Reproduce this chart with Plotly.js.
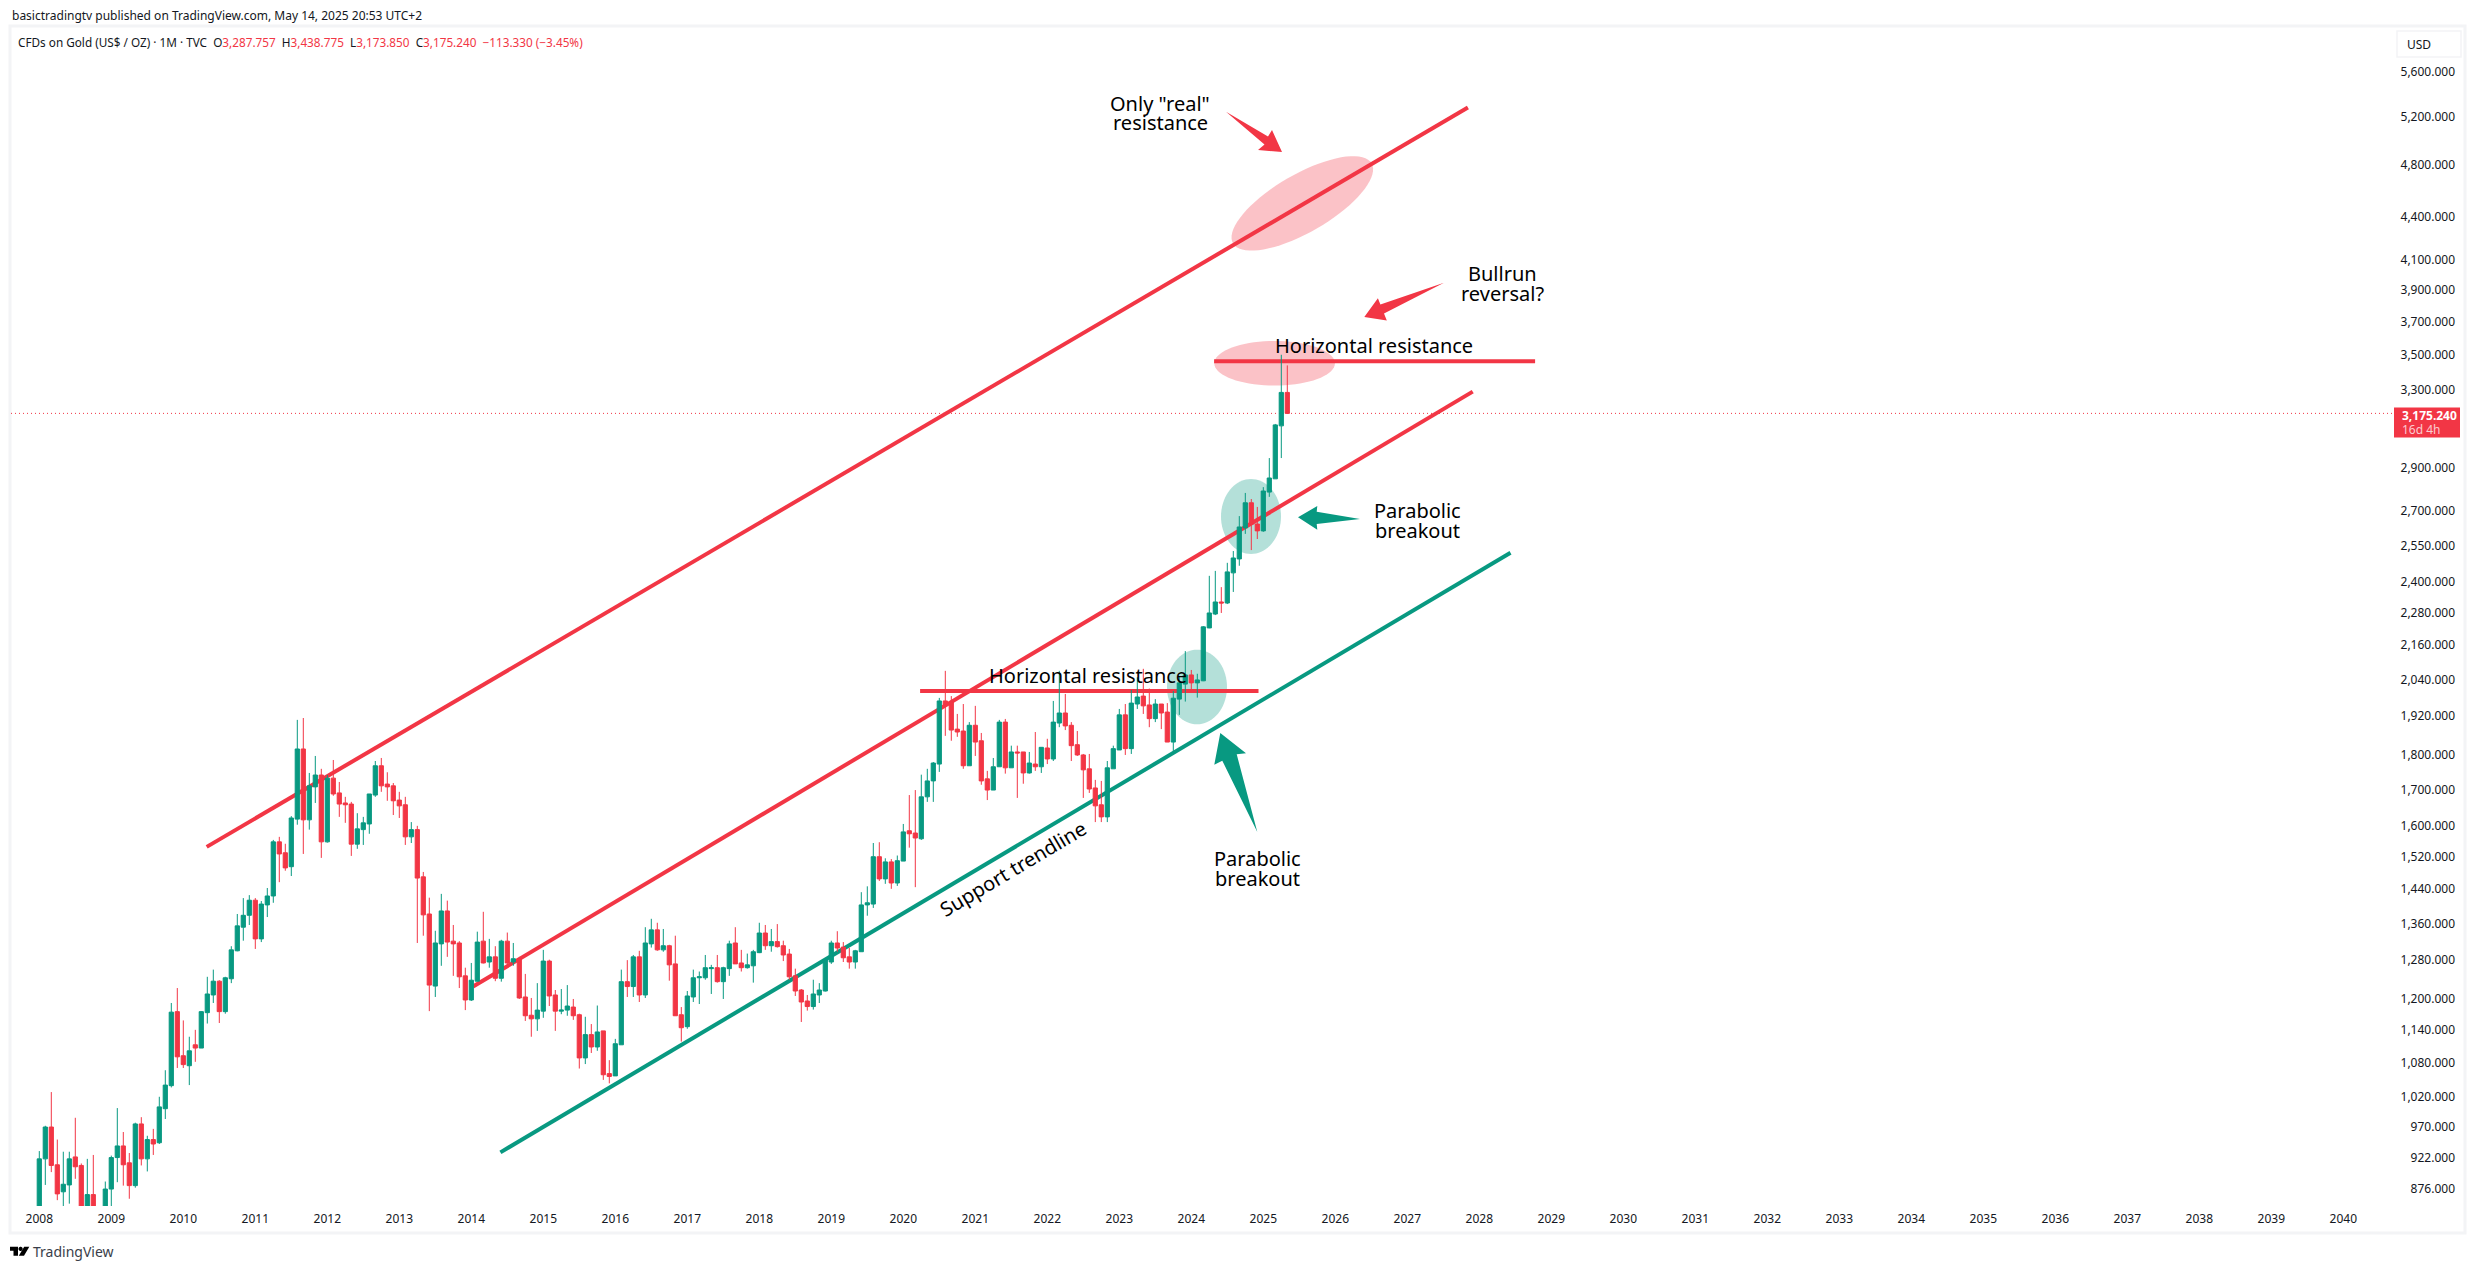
<!DOCTYPE html>
<html>
<head>
<meta charset="utf-8">
<script src="https://cdn.plot.ly/plotly-3.0.1.min.js"></script>
<style>html,body{margin:0;padding:0;background:#fff}</style>
</head>
<body>
<div id="chart" style="width:2475px;height:1269px"></div>
<script>
// monthly candles, Jan 2008 to May 2025
const opens = [834,920,970,911,871,881,923,910,832,867,
  724,814,875,922,940,914,880,975,920,950,
  945,1000,1039,1175,1092,1074,1112,1106,1173,1208,
  1236,1175,1241,1300,1352,1379,1414,1326,1403,1424,
  1558,1530,1495,1618,1818,1616,1707,1741,1558,1732,
  1690,1662,1659,1552,1590,1605,1684,1768,1715,1710,
  1670,1657,1571,1590,1470,1382,1226,1315,1389,1321,
  1317,1247,1198,1236,1321,1276,1287,1242,1321,1276,
  1283,1204,1168,1161,1176,1278,1208,1176,1178,1184,
  1169,1088,1131,1108,1138,1060,1056,1112,1235,1225,
  1287,1208,1315,1346,1302,1311,1272,1169,1146,1204,
  1243,1243,1262,1264,1235,1262,1317,1274,1264,1268,
  1296,1339,1311,1320,1311,1293,1247,1218,1196,1185,
  1208,1216,1276,1317,1308,1287,1276,1298,1403,1405,
  1520,1465,1507,1455,1509,1587,1581,1566,1679,1724,
  1773,1969,1966,1879,1873,1768,1891,1843,1730,1698,
  1765,1901,1762,1809,1809,1747,1773,1765,1821,1788,
  1898,1930,1891,1831,1800,1759,1704,1657,1624,1759,
  1815,1924,1819,1959,1985,1956,1912,1959,1933,1839,
  1975,2025,2056,2029,2036,2223,2275,2321,2317,2436,
  2493,2625,2737,2642,2612,2786,2848,3110,3287.757]
const highs = [932,972,1028,950,931,931,985,913,920,926,
  825,886,925,1001,962,929,977,986,956,967,
  1020,1066,1192,1222,1158,1127,1140,1176,1245,1260,
  1238,1245,1310,1382,1419,1426,1419,1412,1443,1563,
  1571,1553,1626,1908,1914,1747,1797,1759,1741,1785,
  1721,1679,1665,1634,1624,1687,1782,1791,1749,1718,
  1693,1679,1610,1600,1482,1420,1344,1429,1413,1357,
  1321,1264,1274,1342,1387,1326,1310,1324,1340,1317,
  1287,1251,1202,1232,1302,1281,1218,1220,1228,1200,
  1171,1165,1151,1187,1138,1084,1123,1260,1280,1291,
  1300,1352,1371,1362,1348,1313,1333,1184,1216,1260,
  1256,1291,1270,1291,1266,1322,1352,1302,1294,1302,
  1362,1357,1348,1359,1322,1304,1262,1220,1208,1239,
  1232,1281,1322,1343,1319,1306,1302,1433,1447,1555,
  1557,1516,1514,1523,1605,1684,1698,1742,1759,1779,
  1979,2070,1985,1927,1959,1901,1953,1867,1753,1791,
  1908,1911,1828,1828,1809,1809,1870,1823,1849,1969,
  2070,1992,1901,1873,1803,1803,1727,1724,1782,1828,
  1943,1959,2005,2048,2077,2010,1975,1959,1962,2002,
  2050,2139,2073,2060,2230,2424,2444,2379,2477,2526,
  2677,2782,2754,2718,2809,2948,3120,3500,3438.775]
const lows = [833,881,900,859,845,854,890,786,735,681,
  699,750,802,885,880,861,877,910,901,926,
  943,983,1036,1070,1070,1040,1081,1106,1152,1192,
  1153,1171,1232,1299,1322,1357,1304,1319,1375,1408,
  1457,1485,1472,1603,1527,1590,1662,1517,1556,1682,
  1624,1608,1522,1540,1550,1579,1679,1693,1668,1629,
  1621,1550,1555,1317,1333,1176,1204,1268,1287,1247,
  1222,1178,1196,1235,1273,1264,1236,1235,1270,1268,
  1200,1157,1127,1138,1163,1186,1138,1170,1167,1159,
  1069,1077,1097,1101,1049,1043,1056,1112,1204,1204,
  1194,1202,1307,1300,1298,1237,1167,1118,1142,1194,
  1190,1239,1210,1233,1200,1247,1272,1256,1262,1233,
  1295,1302,1298,1307,1278,1239,1206,1155,1177,1179,
  1192,1215,1272,1298,1276,1262,1262,1298,1378,1396,
  1460,1453,1441,1448,1509,1543,1445,1563,1665,1665,
  1750,1858,1843,1855,1759,1768,1797,1713,1670,1698,
  1765,1745,1762,1676,1716,1745,1753,1747,1773,1782,
  1885,1876,1782,1797,1676,1690,1610,1610,1610,1759,
  1815,1800,1803,1943,1927,1885,1901,1879,1839,1812,
  1924,1967,2000,1980,2035,2222,2271,2279,2313,2360,
  2465,2599,2530,2577,2608,2764,2848,2948,3173.85]
const closes = [920,970,910,868,882,920,908,832,867,724,
  814,875,922,940,911,880,975,920,950,943,
  1003,1040,1174,1090,1076,1101,1106,1175,1210,1236,
  1175,1243,1302,1355,1379,1414,1326,1405,1424,1558,
  1527,1492,1621,1818,1616,1710,1741,1558,1732,1687,
  1659,1657,1552,1592,1608,1687,1768,1710,1707,1668,
  1654,1571,1590,1467,1380,1228,1317,1389,1319,1315,
  1245,1198,1238,1319,1274,1287,1242,1321,1274,1283,
  1202,1167,1161,1178,1278,1206,1176,1178,1186,1167,
  1088,1131,1108,1136,1058,1055,1114,1235,1225,1287,
  1208,1317,1346,1302,1311,1270,1167,1144,1206,1243,
  1245,1264,1264,1235,1264,1315,1272,1264,1270,1298,
  1339,1311,1320,1309,1291,1245,1216,1194,1185,1210,
  1218,1281,1317,1306,1285,1276,1300,1403,1408,1520,
  1465,1507,1455,1510,1584,1579,1568,1679,1724,1776,
  1969,1956,1876,1870,1768,1891,1839,1724,1698,1765,
  1901,1762,1809,1806,1747,1776,1765,1823,1788,1901,
  1930,1889,1828,1800,1756,1701,1654,1624,1762,1819,
  1924,1819,1962,1982,1953,1912,1959,1930,1839,1978,
  2029,2056,2029,2039,2227,2279,2321,2317,2440,2497,
  2629,2737,2642,2612,2791,2852,3115,3287.757,3175.24]

const years = [2008,2009,2010,2011,2012,2013,2014,2015,2016,2017,2018,2019,2020,2021,2022,2023,2024,
  2025,2026,2027,2028,2029,2030,2031,2032,2033,2034,2035,2036,2037,2038,2039,2040]
const priceTicks = [5600,5200,4800,4400,4100,3900,3700,3500,3300,2900,2700,2550,2400,2280,2160,2040,
  1920,1800,1700,1600,1520,1440,1360,1280,1200,1140,1080,1020,970,922,876]
const lastPrice = 3175.24

// trendlines as [bar index], [price]
const upperX = [27.9, 238.1], upperY = [1545, 5278]
const middleX = [72.3, 238.9], middleY = [1225, 3292]
const supportX = [76.85, 245.2], supportY = [930, 2519]
const lowResX = [146.8, 203.2], lowResY = [2001.5, 2001.5]
const topResX = [195.8, 249.3], topResY = [3463, 3463]

const RED = '#f23645', GREEN = '#089981', INK = '#131722', FRAME = '#f3f4f6'
const FONT = 'Noto Sans, Open Sans, sans-serif'

// pane in page pixels
const L = 11, R = 2458, T = 27, B = 1206
const px = (x) => (x - L) / (R - L)
const py = (y) => (B - y) / (B - T)

const polyPath = (pts) => 'M' + pts.map(p => px(p[0]) + ',' + py(p[1])).join(' L') + ' Z'

const ellipsePath = (cx, cy, a, b, deg) => {
  let pts = []
  let th = deg * Math.PI / 180
  for (let k = 0; k < 72; k++) {
    let t = k / 72 * 2 * Math.PI
    let ex = a * Math.cos(t), ey = b * Math.sin(t)
    pts.push([cx + ex * Math.cos(th) + ey * Math.sin(th), cy - ex * Math.sin(th) + ey * Math.cos(th)])
  }
  return polyPath(pts)
}

const trend = (xs, ys, color) => ({
  type: 'line', layer: 'below', xref: 'x', yref: 'y',
  x0: xs[0], x1: xs[1], y0: ys[0], y1: ys[1],
  line: { color: color, width: 4 }
})
const fillShape = (path, color) => ({
  type: 'path', layer: 'below', xref: 'paper', yref: 'paper',
  path: path, fillcolor: color, line: { width: 0 }
})
const topShape = (path, color) => ({
  type: 'path', layer: 'above', xref: 'paper', yref: 'paper',
  path: path, fillcolor: color, line: { width: 0 }
})

const PINK = 'rgba(242,54,69,0.3)', TEAL = 'rgba(8,153,129,0.3)'

const shapes = [
  // outer frame of the pane
  { type: 'rect', xref: 'paper', yref: 'paper', layer: 'below', x0: px(10), x1: px(2465), y0: py(1233), y1: py(26),
    line: { color: FRAME, width: 3 }, fillcolor: 'rgba(0,0,0,0)' },
  { type: 'line', xref: 'paper', yref: 'y', layer: 'below', x0: 0, x1: px(2393), y0: lastPrice, y1: lastPrice,
    line: { color: RED, width: 1, dash: '1px,3px' } },
  trend(upperX, upperY, RED),
  trend(middleX, middleY, RED),
  trend(lowResX, lowResY, RED),
  trend(topResX, topResY, RED),
  trend(supportX, supportY, GREEN),
  fillShape(ellipsePath(1302.3, 203.4, 80, 29, 30), PINK),
  fillShape(ellipsePath(1274.6, 363.3, 60.3, 22.3, 0), PINK),
  fillShape(ellipsePath(1251, 516.5, 30, 37.5, 0), TEAL),
  fillShape(ellipsePath(1197, 687, 30, 37.3, 0), TEAL),
  // arrows
  topShape(polyPath([[1226, 111.7], [1268, 136.5], [1272, 130], [1282, 152], [1258, 150], [1264.5, 144.5]]), RED),
  topShape(polyPath([[1444, 282.7], [1380.4, 304.5], [1377.9, 298.2], [1364.3, 317], [1386.8, 320.5], [1384, 313.5]]), RED),
  topShape(polyPath([[1298, 517.3], [1317.3, 506], [1316.7, 511.7], [1360, 519], [1316.7, 524], [1317.3, 529.7]]), GREEN),
  topShape(polyPath([[1220.3, 733], [1246, 753.3], [1236.7, 754.3], [1257.3, 832], [1222.3, 760.7], [1214.3, 764.7]]), GREEN),
  // price label and USD button
  topShape(polyPath([[2394, 407.5], [2460, 407.5], [2460, 437.5], [2394, 437.5]]), RED),
  { type: 'rect', xref: 'paper', yref: 'paper', layer: 'above', x0: px(2397), x1: px(2461), y0: py(57), y1: py(31),
    line: { color: FRAME, width: 1.5 }, fillcolor: 'rgba(0,0,0,0)' },
  // TradingView logo
  topShape(polyPath([[10, 1246.7], [18, 1246.7], [18, 1255.7], [13.5, 1255.7], [13.5, 1250.7], [10, 1250.7]]), '#000'),
  topShape(ellipsePath(20.6, 1248.9, 2.1, 2.1, 0), '#000'),
  topShape(polyPath([[24.2, 1246.7], [29.3, 1246.7], [24, 1255.7], [18.8, 1255.7]]), '#000')
]

const note = (text, x, y, size, extra) => Object.assign({
  text: text, xref: 'paper', yref: 'paper', x: px(x), y: py(y),
  xanchor: 'center', yanchor: 'middle', showarrow: false,
  font: { family: FONT, size: size || 20, color: '#000' }
}, extra || {})

const redVal = (s) => '<span style="color:' + RED + '">' + s + '</span>'

const annotations = [
  note('Only "real"', 1160, 103),
  note('resistance', 1160, 123),
  note('Bullrun', 1502, 273),
  note('reversal?', 1502, 293),
  note('Horizontal resistance', 1374, 345.7),
  note('Horizontal resistance', 1088, 675),
  note('Parabolic', 1417.5, 510),
  note('breakout', 1417.5, 530),
  note('Parabolic', 1257, 858),
  note('breakout', 1257, 878),
  note('Support trendline', 1013.3, 868.3, 20, { textangle: -30.7 }),
  note('basictradingtv published on TradingView.com, May 14, 2025 20:53 UTC+2', 9.5, 15.5, 12,
    { xanchor: 'left', font: { family: FONT, size: 12, color: INK } }),
  note('CFDs on Gold (US$ / OZ) · 1M · TVC  O' + redVal('3,287.757') + '  H' + redVal('3,438.775') + '  L' + redVal('3,173.850') +
    '  C' + redVal('3,175.240') + '  ' + redVal('−113.330 (−3.45%)'), 16, 41.5, 11.75,
    { xanchor: 'left', font: { family: FONT, size: 11.75, color: INK } }),
  note('USD', 2405, 44.5, 12, { xanchor: 'left', font: { family: FONT, size: 12, color: INK } }),
  note('<b>3,175.240</b>', 2400, 415, 12, { xanchor: 'left', font: { family: FONT, size: 12, color: '#fff' } }),
  note('16d 4h', 2400, 429, 12, { xanchor: 'left', font: { family: FONT, size: 12, color: 'rgba(255,255,255,0.75)' } }),
  note('TradingView', 31, 1251.5, 14, { xanchor: 'left', font: { family: FONT, size: 14, color: '#3a3e49' } })
]

const candles = {
  type: 'candlestick',
  x: opens.map((_, i) => i),
  open: opens, high: highs, low: lows, close: closes,
  increasing: { line: { color: GREEN, width: 1 }, fillcolor: GREEN },
  decreasing: { line: { color: RED, width: 1 }, fillcolor: RED },
  whiskerwidth: 0,
  hoverinfo: 'skip',
  showlegend: false
}

const layout = {
  width: 2475,
  height: 1269,
  autosize: false,
  margin: { l: L, r: 2475 - R, t: T, b: 1269 - B, pad: 0 },
  paper_bgcolor: '#fff',
  plot_bgcolor: 'rgba(0,0,0,0)',
  showlegend: false,
  boxgap: 0.3,
  boxgroupgap: 0,
  xaxis: {
    type: 'linear',
    range: [(L - 39.3) / 6, (R - 39.3) / 6],
    rangeslider: { visible: false },
    tickmode: 'array',
    tickvals: years.map((_, i) => i * 12),
    ticktext: years.map(String),
    ticks: '',
    ticklabelstandoff: 4,
    showgrid: false, zeroline: false, showline: false,
    tickfont: { family: FONT, size: 12, color: INK }
  },
  yaxis: {
    type: 'log',
    side: 'right',
    range: [Math.log10(850.7), Math.log10(6034)],
    tickmode: 'array',
    tickvals: priceTicks,
    ticktext: priceTicks.map(v => v.toLocaleString('en-US', { minimumFractionDigits: 3, maximumFractionDigits: 3 })),
    ticklabelposition: 'inside',
    ticks: '',
    showgrid: false, zeroline: false, showline: false,
    tickfont: { family: FONT, size: 12, color: INK }
  },
  shapes: shapes,
  annotations: annotations
}

Plotly.newPlot('chart', [candles], layout, { displayModeBar: false, staticPlot: true })
</script>
</body>
</html>
